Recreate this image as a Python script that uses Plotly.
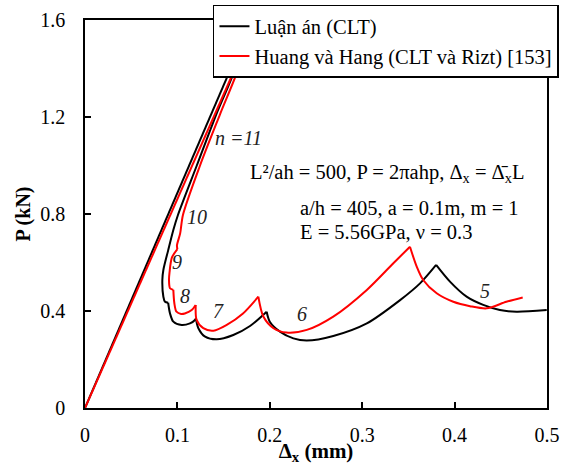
import plotly.graph_objects as go

# Load-deflection paths (Delta_x in mm, P in kN)
clt_x = [0.0, 0.186, 0.178, 0.1645, 0.142, 0.121, 0.1006, 0.0956, 0.090, 0.0848, 0.0837,
         0.0848, 0.0866, 0.090, 0.092, 0.0956, 0.1046, 0.1136, 0.119, 0.120,
         0.1227, 0.130, 0.1425, 0.1605, 0.1786, 0.1966,
         0.200, 0.211, 0.2255, 0.240, 0.2687, 0.305, 0.341, 0.3626, 0.380,
         0.395, 0.413, 0.431, 0.449, 0.467, 0.4997]
clt_p = [0.0, 1.65, 1.65, 1.42, 1.21, 1.0, 0.796, 0.734, 0.65, 0.569, 0.528,
         0.459, 0.438, 0.434, 0.39, 0.356, 0.342, 0.349, 0.363, 0.370,
         0.329, 0.294, 0.283, 0.301, 0.338, 0.397,
         0.356, 0.315, 0.287, 0.278, 0.297, 0.349, 0.445, 0.514, 0.590,
         0.521, 0.459, 0.425, 0.404, 0.397, 0.404]
# indices of sharp corners (snap-through points) along the CLT path
clt_corners = [1, 13, 19, 25, 34]

ritz_x = [0.0, 0.192, 0.184, 0.168, 0.146, 0.1245, 0.106, 0.103, 0.0995, 0.100, 0.094,
          0.0915, 0.0909, 0.092, 0.0956, 0.0967, 0.099, 0.104, 0.108, 0.1155, 0.1198,
          0.1208, 0.128, 0.139, 0.153, 0.171, 0.1876,
          0.193, 0.204, 0.218, 0.240, 0.2687, 0.305, 0.3337, 0.3517,
          0.359, 0.366, 0.3806, 0.3986, 0.4167, 0.4347, 0.456, 0.4737]
ritz_p = [0.0, 1.655, 1.655, 1.42, 1.21, 1.0, 0.796, 0.72, 0.67, 0.655, 0.62,
          0.56, 0.528, 0.494, 0.487, 0.432, 0.397, 0.388, 0.39, 0.404, 0.425,
          0.363, 0.329, 0.319, 0.342, 0.39, 0.459,
          0.377, 0.329, 0.311, 0.322, 0.377, 0.487, 0.597, 0.665,
          0.583, 0.528, 0.473, 0.438, 0.42, 0.411, 0.438, 0.456]
ritz_corners = [1, 9, 14, 20, 26, 34]

x_ticks = [0, 0.1, 0.2, 0.3, 0.4, 0.5]
x_tick_text = ["0", "0.1", "0.2", "0.3", "0.4", "0.5"]
y_ticks = [0, 0.4, 0.8, 1.2, 1.6]
y_tick_text = ["0", "0.4", "0.8", "1.2", "1.6"]

# Half-wave number labels along the path
mode_labels = ["n =11", "10", "9", "8", "7", "6", "5"]
mode_x = [0.1656, 0.121, 0.0996, 0.108, 0.144, 0.235, 0.433]
mode_p = [1.113, 0.788, 0.602, 0.462, 0.40, 0.388, 0.482]

FONT = "Liberation Serif"


def add_path(fig, xs, ps, corners, name, color):
    """Draw a path as smooth pieces joined at its sharp corners."""
    cuts = [0] + corners + [len(xs) - 1]
    for k in range(len(cuts) - 1):
        a, b = cuts[k], cuts[k + 1]
        fig.add_trace(go.Scatter(
            x=xs[a:b + 1], y=ps[a:b + 1], mode="lines", name=name,
            legendgroup=name, showlegend=(k == 0),
            line=dict(color=color, width=2, shape="spline", smoothing=0.8)))


fig = go.Figure()
add_path(fig, clt_x, clt_p, clt_corners, "Luận án (CLT)", "#000000")
add_path(fig, ritz_x, ritz_p, ritz_corners, "Huang và Hang (CLT và Rizt) [153]", "#ff0000")

for lbl, xv, pv in zip(mode_labels, mode_x, mode_p):
    fig.add_annotation(x=xv, y=pv, text=f"<i>{lbl}</i>", showarrow=False,
                       font=dict(family=FONT, size=20, color="#222"))

info_lines = [
    ("L²/ah = 500, P = 2πahp, Δ<sub>x</sub> = Δ\u0304<sub>x</sub>L", 0.1764, 0.969),
    ("a/h = 405, a = 0.1m, m = 1", 0.2305, 0.825),
    ("E = 5.56GPa, ν = 0.3", 0.2305, 0.726),
]
for txt, xv, pv in info_lines:
    fig.add_annotation(x=xv, y=pv, text=txt, showarrow=False, xanchor="left",
                       font=dict(family=FONT, size=20.5, color="#000"))

axis_common = dict(showgrid=False, zeroline=False, showline=True, linecolor="#000",
                   linewidth=1.5, mirror=True, ticks="inside", ticklen=6,
                   tickcolor="#000", tickwidth=1.5, automargin=False,
                   tickfont=dict(family=FONT, size=20, color="#000"))

fig.update_xaxes(range=[0, 0.5], tickvals=x_ticks, ticktext=x_tick_text,
                 title=dict(text="<b>Δ<sub>x</sub> (mm)</b>", standoff=2,
                            font=dict(family=FONT, size=21, color="#000")),
                 ticklabelstandoff=8, **axis_common)
fig.update_yaxes(range=[0, 1.6], tickvals=y_ticks, ticktext=y_tick_text,
                 title=dict(text="<b>P (kN)</b>", standoff=4,
                            font=dict(family=FONT, size=20, color="#000")),
                 ticklabelstandoff=14, **axis_common)

fig.update_layout(
    width=570, height=465,
    margin=dict(l=85, r=23, t=20, b=57, autoexpand=False),
    paper_bgcolor="white", plot_bgcolor="white",
    font=dict(family=FONT, size=20, color="#000"),
    legend=dict(x=0.277, y=1.0387, xanchor="left", yanchor="top",
                bgcolor="white", bordercolor="#000", borderwidth=1.5,
                font=dict(family=FONT, size=20.5, color="#000"),
                tracegroupgap=0, itemwidth=30),
)

fig.write_html("out.html")
